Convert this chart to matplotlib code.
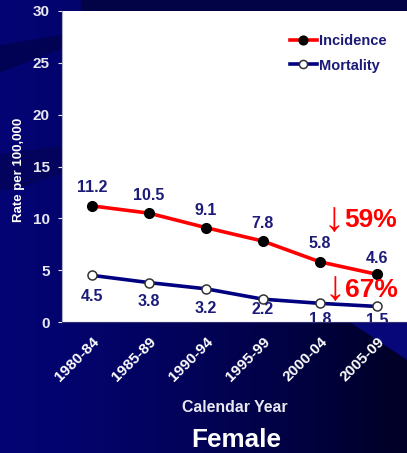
import matplotlib

matplotlib.use("Agg")
import matplotlib.pyplot as plt
import numpy as np
from matplotlib.colors import LinearSegmentedColormap
from matplotlib.patches import Polygon

periods = ["1980-84", "1985-89", "1990-94", "1995-99", "2000-04", "2005-09"]
incidence = [11.2, 10.5, 9.1, 7.8, 5.8, 4.6]
mortality = [4.5, 3.8, 3.2, 2.2, 1.8, 1.5]
inc_drop = "59%"
mort_drop = "67%"

# vertical offsets (points) of the value labels
inc_offsets = [13, 13, 12.5, 12.5, 13, 11.5]
mort_offsets = [15, 13.7, 14.2, 7.2, 11.9, 10.4]

NAVY = "#000080"
LABEL = "#1c1c78"
FONT = ["Liberation Sans", "DejaVu Sans"]

plt.rcParams["font.family"] = FONT
plt.rcParams["font.weight"] = "bold"

fig = plt.figure(figsize=(4.07, 4.53), dpi=100)

# slide-style backdrop: navy fading to near black towards the right
bg = fig.add_axes([0, 0, 1, 1])
bg.set_axis_off()
xx, yy = np.meshgrid(np.linspace(0, 1, 200), np.linspace(0, 1, 200))
shade = np.clip(0.08 + 0.95 * xx ** 1.4, 0, 1)
cmap = LinearSegmentedColormap.from_list("slide", ["#04047a", "#000028"])
bg.imshow(shade, cmap=cmap, extent=[0, 1, 0, 1], origin="upper",
          aspect="auto", vmin=0, vmax=1)
for pts, col in [
    ([(0, 0.90), (0.16, 0.925), (0.16, 0.895), (0, 0.84)], "#020254"),
    ([(0, 0.66), (0.16, 0.68), (0.16, 0.62), (0.05, 0.585), (0, 0.58)],
     "#03035e"),
    ([(0.2, 1), (1, 1), (1, 0.975), (0.2, 0.975)], "#020246"),
    ([(0.86, 0.289), (1, 0.289), (1, 0.205)], "#07077a"),
]:
    bg.add_patch(Polygon(pts, closed=True, color=col, lw=0))
bg.set_xlim(0, 1)
bg.set_ylim(0, 1)

ax = fig.add_axes([62 / 407, 1 - 322 / 453, 345 / 407, 311 / 453])
ax.set_facecolor("white")
x = np.arange(len(periods))

ax.plot(x, incidence, color="#ff0000", lw=2.6, marker="o", ms=7,
        mfc="black", mec="black", label="Incidence", zorder=3)
ax.plot(x, mortality, color=NAVY, lw=2.6, marker="o", ms=6.5,
        mfc="white", mec="#333333", mew=1.1, label="Mortality", zorder=3)

for xi, v, off in zip(x, incidence, inc_offsets):
    ax.annotate(f"{v}", (xi, v), xytext=(0, off), textcoords="offset points",
                ha="center", va="center", fontsize=11.5, color=LABEL,
                fontweight="bold")
for xi, v, off in zip(x, mortality, mort_offsets):
    ax.annotate(f"{v}", (xi, v), xytext=(0, -off), textcoords="offset points",
                ha="center", va="center", fontsize=11.5, color=LABEL,
                fontweight="bold", annotation_clip=False, clip_on=True)

# percentage drop callouts
for y, arrow_x, arrow_y, txt in [(9.16, 4.25, 9.88, inc_drop),
                                  (2.41, 4.26, 3.18, mort_drop)]:
    ax.text(arrow_x, arrow_y, "\u2193", ha="center", va="center",
            fontsize=30, color="#ff0000", fontweight="normal")
    ax.text(4.43, y, txt, ha="left", va="baseline", fontsize=19,
            color="#ff0000", fontweight="bold")

ax.set_xlim(-30 / 57, (407 - 92) / 57)
ax.set_ylim(0, 30)
ax.set_yticks(range(0, 31, 5))
ax.set_xticks(x)
ax.set_xticklabels(periods, rotation=45, ha="right", rotation_mode="anchor",
                   fontsize=11, color="white", fontweight="bold")
ax.tick_params(axis="y", colors="#e8e8f0", labelsize=11, length=3,
               width=0.8, pad=6)
ax.tick_params(axis="x", length=0, pad=9)
for lbl in ax.get_yticklabels():
    lbl.set_fontweight("bold")
    lbl.set_color("#e8e8f0")
for side in ["top", "right"]:
    ax.spines[side].set_visible(False)
ax.spines["left"].set_color("#b0b0c8")
ax.spines["bottom"].set_color("#303070")

ax.set_ylabel("Rate per 100,000", color="white", fontsize=9.5,
              fontweight="bold")
ax.yaxis.set_label_coords(-37 / 345, (322 - 170) / 311)

leg = ax.legend(loc="upper right", frameon=False, fontsize=10.5,
                handlelength=1.9, handletextpad=0.1, borderaxespad=0,
                borderpad=0, labelspacing=0.7, markerscale=0.9,
                bbox_to_anchor=(0.94, 0.925))
for t in leg.get_texts():
    t.set_color(LABEL)
    t.set_fontweight("bold")

fig.text(235 / 407, 1 - 408 / 453, "Calendar Year", ha="center",
         va="center", fontsize=11.4, color="#e8e8f0", fontweight="bold")
fig.text(236 / 407, 1 - 440 / 453, "Female", ha="center", va="center",
         fontsize=18.8, color="white", fontweight="bold")

fig.savefig("out.png", dpi=100)
